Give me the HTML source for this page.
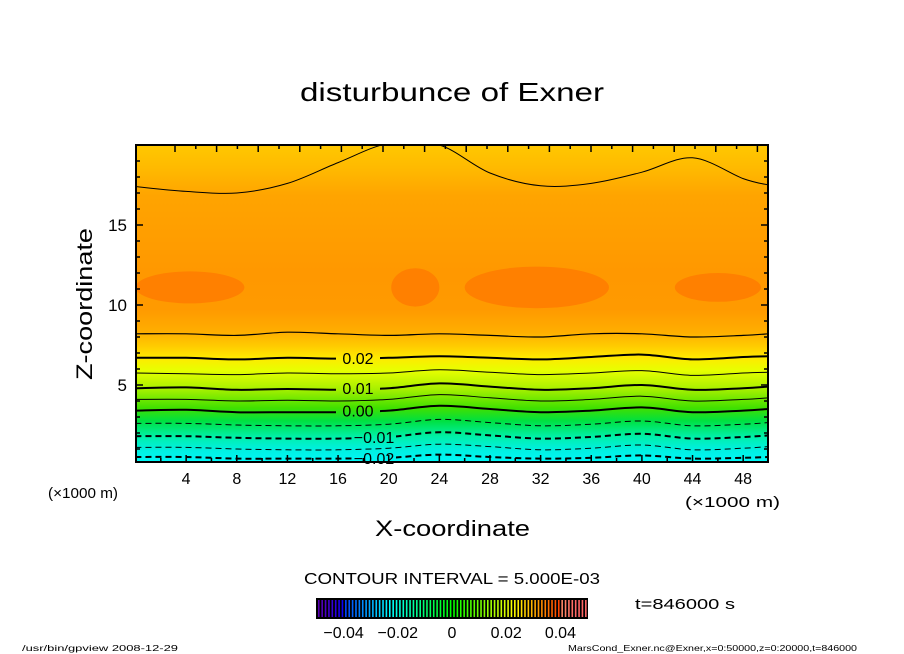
<!DOCTYPE html>
<html><head><meta charset="utf-8"><style>
body{margin:0;background:#fff;}
svg{display:block;font-family:"Liberation Sans",sans-serif;}
</style></head><body>
<svg id="chart" width="904" height="654" viewBox="0 0 904 654">
<defs>
<linearGradient id="bg" x1="0" y1="145" x2="0" y2="462" gradientUnits="userSpaceOnUse">
<stop offset="0" stop-color="#ffc800"/><stop offset="0.08" stop-color="#ffb800"/>
<stop offset="0.16" stop-color="#ffa400"/><stop offset="0.4" stop-color="#ff9800"/>
<stop offset="0.52" stop-color="#ff9a00"/><stop offset="0.59" stop-color="#ffae00"/>
<stop offset="0.63" stop-color="#ffc800"/><stop offset="0.67" stop-color="#ffe800"/>
<stop offset="0.71" stop-color="#e8ff00"/><stop offset="0.77" stop-color="#a8f000"/>
<stop offset="0.83" stop-color="#40e000"/><stop offset="0.87" stop-color="#00e040"/>
<stop offset="0.92" stop-color="#00f0a8"/><stop offset="0.96" stop-color="#00f0e0"/>
<stop offset="1" stop-color="#00f8f8"/></linearGradient>
<clipPath id="clip"><rect x="136" y="145" width="632" height="317"/></clipPath>
</defs>
<text x="300" y="101" font-size="26" textLength="304" lengthAdjust="spacingAndGlyphs">disturbunce of Exner</text>
<g clip-path="url(#clip)" id="plot">
<rect x="136" y="145" width="632" height="317" fill="url(#bg)"/>
<g id="blobs"></g>
<g id="lines"></g>
</g>
<rect x="136" y="145" width="632" height="317" fill="none" stroke="#000" stroke-width="2"/>
<g id="ticks"></g>
<g id="labels" font-size="15"></g>
<text x="0" y="0" font-size="22" textLength="152" lengthAdjust="spacingAndGlyphs" transform="translate(92 380) rotate(-90)">Z-coordinate</text>
<text x="375" y="536" font-size="22" textLength="155" lengthAdjust="spacingAndGlyphs">X-coordinate</text>
<text x="48" y="498" font-size="15" textLength="70" lengthAdjust="spacingAndGlyphs">(×1000 m)</text>
<text x="685" y="507" font-size="15" textLength="95" lengthAdjust="spacingAndGlyphs">(×1000 m)</text>
<text x="304" y="584" font-size="16" textLength="296" lengthAdjust="spacingAndGlyphs">CONTOUR INTERVAL = 5.000E-03</text>
<rect x="316" y="598" width="272" height="21" fill="#000"/>
<g id="cbar"></g>
<text x="635" y="609" font-size="15" textLength="100" lengthAdjust="spacingAndGlyphs">t=846000 s</text>
<text x="22" y="651" font-size="8" textLength="156" lengthAdjust="spacingAndGlyphs">/usr/bin/gpview  2008-12-29</text>
<text x="568" y="651" font-size="8" textLength="289" lengthAdjust="spacingAndGlyphs">MarsCond_Exner.nc@Exner,x=0:50000,z=0:20000,t=846000</text>
</svg>
<script>
const xs=[0,4,8,12,16,20,24,28,32,36,40,44,48,50];
const lineTop=[17.4,17.1,17.0,17.6,18.9,20.1,20.0,18.25,17.45,17.6,18.3,19.2,17.9,17.5];
const line8=[8.2,8.2,8.1,8.3,8.2,8.1,8.2,8.1,8.0,8.2,8.2,8.0,8.1,8.2];
const line675=[6.7,6.7,6.6,6.7,6.65,6.7,6.8,6.7,6.6,6.75,6.9,6.6,6.75,6.8];
const line575=[5.75,5.7,5.65,5.75,5.7,5.75,5.95,5.8,5.65,5.75,5.9,5.6,5.75,5.8];
const line48=[4.8,4.85,4.7,4.75,4.7,4.8,5.1,4.9,4.7,4.8,5.0,4.7,4.8,4.9];
const line41=[4.1,4.1,4.0,4.05,4.0,4.1,4.4,4.2,4.0,4.1,4.3,4.0,4.1,4.2];
const line34=[3.4,3.45,3.3,3.3,3.3,3.4,3.7,3.5,3.3,3.4,3.6,3.3,3.4,3.5];
const line255=[2.6,2.6,2.5,2.45,2.45,2.55,2.85,2.65,2.45,2.55,2.75,2.45,2.55,2.65];
const line175=[1.8,1.8,1.7,1.65,1.65,1.75,2.05,1.85,1.65,1.75,1.95,1.65,1.75,1.85];
const line105=[1.1,1.1,1.0,0.95,0.95,1.05,1.3,1.15,0.95,1.05,1.25,0.95,1.05,1.15];
const line45=[0.5,0.5,0.4,0.4,0.4,0.45,0.65,0.5,0.4,0.45,0.6,0.4,0.45,0.5];
const xTicks=[4,8,12,16,20,24,28,32,36,40,44,48];
const yTicks=[5,10,15];
const cbLabels=["−0.04","−0.02","0","0.02","0.04"];
const cbValues=[-0.04,-0.02,0,0.02,0.04];
const blobX=[4.3,22.1,31.7,46];
const blobZ=[11.1,11.1,11.1,11.1];
const blobRX=[4.3,1.9,5.7,3.4];
const blobRZ=[1.0,1.2,1.3,0.9];
const NS='http://www.w3.org/2000/svg';
const X=v=>135.5+v*12.66, Y=v=>465-v*16;
function mk(t,a,p){const e=document.createElementNS(NS,t);for(const k in a)e.setAttribute(k,a[k]);p.appendChild(e);return e;}
const blobs=document.getElementById('blobs');
for(let i=0;i<blobX.length;i++){
  const e=mk('ellipse',{cx:X(blobX[i]),cy:Y(blobZ[i]),rx:blobRX[i]*12.66,ry:blobRZ[i]*16,fill:'#ff8000'},blobs);
  
  
}
function pathOf(arr){const pts=arr.map((z,i)=>[X(xs[i]),Y(z)]);
  let d='M'+pts[0][0]+','+pts[0][1];
  for(let i=0;i<pts.length-1;i++){const p0=pts[Math.max(0,i-1)],p1=pts[i],p2=pts[i+1],p3=pts[Math.min(pts.length-1,i+2)];
    d+=` C${p1[0]+(p2[0]-p0[0])/6},${p1[1]+(p2[1]-p0[1])/6} ${p2[0]-(p3[0]-p1[0])/6},${p2[1]-(p3[1]-p1[1])/6} ${p2[0]},${p2[1]}`;}
  return d;}
const lines=document.getElementById('lines');
const defs=[[lineTop,1,''],[line8,1.2,''],[line675,2,''],[line575,1,''],[line48,2,''],[line41,1,''],[line34,2,''],[line255,1,'6 4'],[line175,2,'6 4'],[line105,1,'6 4'],[line45,2,'6 4']];
defs.forEach(d=>{const e=mk('path',{d:pathOf(d[0]),fill:'none',stroke:'#000','stroke-width':d[1],'stroke-dasharray':d[2]},lines);
  
  });
const lab=[['0.02',line675],['0.01',line48],['0.00',line34],['−0.01',line175],['−0.02',line45]];
const lx=[358,358,358,374,374];
lab.forEach((l,i)=>{const z=l[1][5];const y=Y(z);
  mk('rect',{x:lx[i]-22,y:y-7,width:44,height:14,fill:'url(#bg)'},lines);
  const t=mk('text',{x:lx[i],y:y+6,'font-size':16,'text-anchor':'middle'},document.getElementById('chart'));
  t.textContent=l[0];
  
  });
const tk=document.getElementById('ticks'), lb=document.getElementById('labels');
for(let v=2;v<50;v+=2){const L=v%4==0?7:4;
  mk('line',{x1:X(v),x2:X(v),y1:462,y2:462-L,stroke:'#000','stroke-width':1.5},tk);}
for(let x=175;x<768;x+=20.8){const L=Math.round((x-175)/20.8)%2==0?7:4;
  mk('line',{x1:x,x2:x,y1:145,y2:145+L,stroke:'#000','stroke-width':1.5},tk);}
for(let v=1;v<20;v++){const L=v%5==0?7:4;
  mk('line',{x1:136,x2:136+L,y1:Y(v),y2:Y(v),stroke:'#000','stroke-width':1.5},tk);
  mk('line',{x1:768,x2:768-L,y1:Y(v),y2:Y(v),stroke:'#000','stroke-width':1.5},tk);}
xTicks.forEach(v=>{const t=mk('text',{x:X(v),y:484,'text-anchor':'middle','font-size':16},lb);t.textContent=v;
  
  });
yTicks.forEach(v=>{const t=mk('text',{x:127,y:Y(v)+6,'text-anchor':'end','font-size':17},lb);t.textContent=v;
  
  });
const cb=document.getElementById('cbar');
for(let i=0;i<80;i++){const f=i/79;
  const c=f<0.1?`hsl(${270-f*300},100%,${35+f*150}%)`:`hsl(${Math.max(0,250-f*260)},100%,${f>0.9?70:50}%)`;
  mk('rect',{x:318+i*3.38,y:600,width:1.6,height:17,fill:c},cb);}
cbValues.forEach((v,i)=>{const t=mk('text',{x:452+v*2710,y:638,'text-anchor':'middle','font-size':16},cb);t.textContent=cbLabels[i];
  
  });
</script>
</body></html>
